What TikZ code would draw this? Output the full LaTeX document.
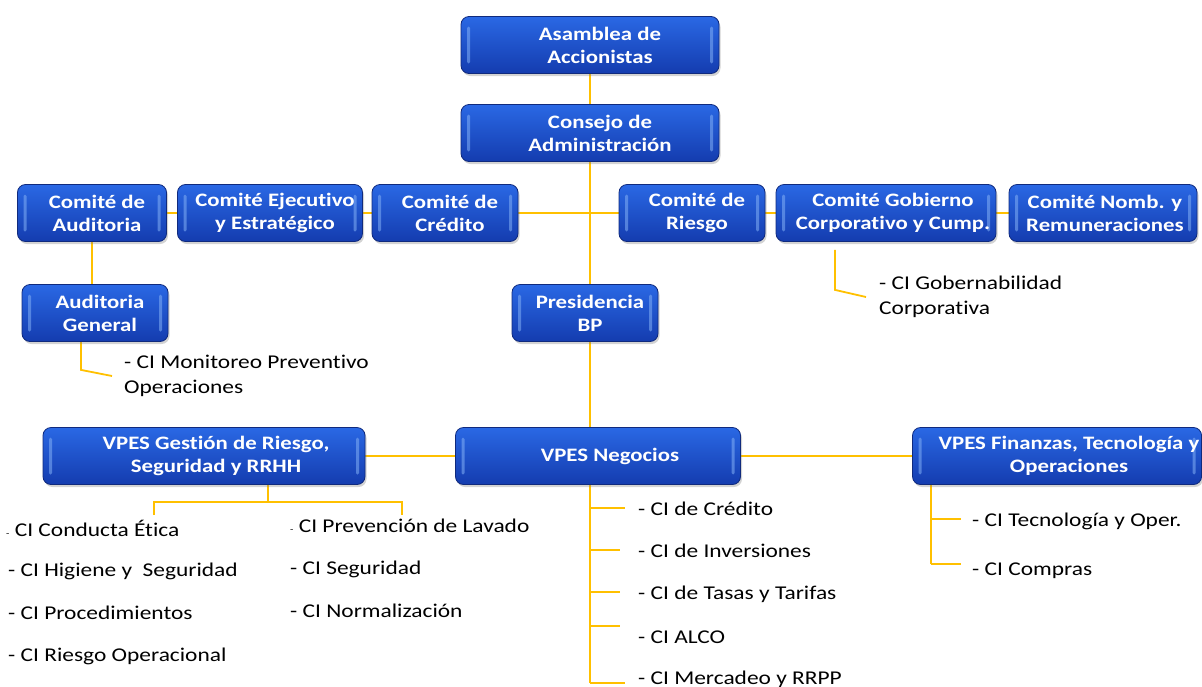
\documentclass[tikz,border=0pt]{standalone}
\usepackage{fontspec}
\setmainfont{Carlito}[FakeStretch=1.2, Ligatures=NoCommon]
\usetikzlibrary{shadows,backgrounds}

\definecolor{azulsup}{RGB}{42,104,228}
\definecolor{azulinf}{RGB}{20,60,175}
\definecolor{azulborde}{RGB}{16,42,125}
\definecolor{azulbrillo}{RGB}{130,175,245}
\definecolor{oro}{RGB}{255,192,0}

\tikzset{
  caja/.style={rectangle, rounded corners=8pt, draw=azulborde, line width=0.8pt,
    top color=azulsup, bottom color=azulinf, minimum height=57pt, inner sep=0pt,
    drop shadow={shadow xshift=1.5pt, shadow yshift=-2.5pt, opacity=0.35},
    path picture={
      \fill[azulbrillo, opacity=0.55, rounded corners=1.5pt] ([xshift=6pt,yshift=-10pt]path picture bounding box.north west) rectangle ([xshift=9pt,yshift=10pt]path picture bounding box.south west);
      \fill[azulbrillo, opacity=0.55, rounded corners=1.5pt] ([xshift=-9pt,yshift=-10pt]path picture bounding box.north east) rectangle ([xshift=-6pt,yshift=10pt]path picture bounding box.south east);
    }},
  rotulo/.style={text=white, font=\bfseries\fontsize{19}{23}\selectfont, align=center, xshift=5pt},
  linea/.style={draw=oro, line width=1.8pt},
  item/.style={anchor=west, inner sep=0pt, font=\fontsize{19.5}{25}\selectfont, align=left}
}

\begin{document}
\begin{tikzpicture}[x=1pt,y=-1pt]
    \useasboundingbox (0,0) rectangle (1202,686);

    % Asamblea y Consejo
    \node[caja, minimum width=258pt, label={[rotulo, xshift=5pt]center:Asamblea de\\Accionistas}] (asamblea) at (590,45) {};
    \node[caja, minimum width=258pt, label={[rotulo, xshift=5pt]center:Consejo de\\Administración}] (consejo) at (590,133) {};

    % Comites
    \node[caja, minimum width=149pt, label={[rotulo]center:Comité de\\Auditoria}] (cAud) at (92,213) {};
    \node[caja, minimum width=185pt, label={[rotulo]center:Comité Ejecutivo\\y Estratégico}] (cEje) at (270,213) {};
    \node[caja, minimum width=146pt, label={[rotulo]center:Comité de\\Crédito}] (cCred) at (445,213) {};
    \node[caja, minimum width=146pt, label={[rotulo]center:Comité de\\Riesgo}] (cRies) at (692,213) {};
    \node[caja, minimum width=220pt, label={[rotulo, xshift=2pt]center:Comité Gobierno\\Corporativo y Cump.}] (cGob) at (886,213) {};
    \node[caja, minimum width=188pt, label={[rotulo, xshift=-3pt]center:Comité Nomb. y\\Remuneraciones}] (cNomb) at (1103,213) {};

    % Auditoria General y Presidencia
    \node[caja, minimum width=146pt, label={[rotulo]center:Auditoria\\General}] (aGen) at (95,313) {};
    \node[caja, minimum width=146pt, label={[rotulo]center:Presidencia\\BP}] (pres) at (585,313) {};

    % Vicepresidencias
    \node[caja, minimum width=322pt, label={[rotulo, xshift=7pt]center:{VPES Gestión de Riesgo,\\Seguridad y RRHH}}] (vGes) at (204,456) {};
    \node[caja, minimum width=285pt, label={[rotulo, xshift=7pt]center:VPES Negocios}] (vNeg) at (598,456) {};
    \node[caja, minimum width=289pt, label={[rotulo, xshift=7pt]center:{VPES Finanzas, Tecnología y\\Operaciones}}] (vFin) at (1057,456) {};

    % Comites internos
    \node[item] (ciMon) at (124,376) {- CI Monitoreo Preventivo\\Operaciones};
    \node[item] (ciGob) at (879,297) {- CI Gobernabilidad\\Corporativa};

    \node[item] (ciEti) at (6,528) {{\fontsize{9}{9}\selectfont -} CI Conducta Ética};
    \node[item] (ciHig) at (8,571) {- CI Higiene y~ Seguridad};
    \node[item] (ciPro) at (8,613) {- CI Procedimientos};
    \node[item] (ciOpe) at (8,656) {- CI Riesgo Operacional};
    \node[item] (ciLav) at (290,526) {{\fontsize{9}{9}\selectfont -} CI Prevención de Lavado};
    \node[item] (ciSeg) at (290,569) {- CI Seguridad};
    \node[item] (ciNor) at (290,611) {- CI Normalización};

    \foreach \texto/\yy [count=\i] in {de Crédito/509, de Inversiones/551, de Tasas y Tarifas/594, ALCO/637, Mercadeo y RRPP/679}
        \node[item] (ciNeg\i) at (638,\yy) {- CI \texto};
    \node[item] (ciTec) at (972,521) {- CI Tecnología y Oper.};
    \node[item] (ciCom) at (972,571) {- CI Compras};

    \coordinate (busIzq) at (154,502);
    \coordinate (busDer) at (402,502);
    \coordinate (finNeg) at (590,683);
    \coordinate (finFin) at (931,564);

    % Conectores
    \begin{scope}[on background layer]
        \draw[linea] (asamblea) -- (consejo);
        \draw[linea] (consejo.south) -- (consejo.south |- vNeg.north);
        \draw[linea] (cCred) -- (cRies);
        \draw[linea] (cAud) -- (cEje);
        \draw[linea] (cEje) -- (cCred);
        \draw[linea] (cRies) -- (cGob);
        \draw[linea] (cGob) -- (cNomb);
        \draw[linea] (cAud.south) -- (cAud.south |- aGen.north);
        \draw[linea] ([xshift=-14pt]aGen.south) -- ++(0,28) -- ([xshift=-12pt]ciMon.west);
        \draw[linea] ([xshift=-51pt,yshift=-8pt]cGob.south) -- ++(0,40) -- ([xshift=-13pt]ciGob.west);
        \draw[linea] (vGes) -- (vNeg);
        \draw[linea] (vNeg) -- (vFin);
        \draw[linea] ([xshift=64pt]vGes.south) -- (busIzq -| 268,0);
        \draw[linea] ([yshift=-13pt]busIzq) -- (busIzq) -- (busDer) -- ([yshift=-13pt]busDer);
        \draw[linea] (vNeg.south -| finNeg) -- (finNeg);
        \foreach \yt/\lt in {508/35, 550/30, 592/30, 626/30, 683/35}
            \draw[linea] (590,\yt) -- ++(\lt,0);
        \draw[linea] (vFin.south -| finFin) -- (finFin);
        \foreach \yt in {519,564}
            \draw[linea] (931,\yt) -- ++(30,0);
    \end{scope}
\end{tikzpicture}
\end{document}
